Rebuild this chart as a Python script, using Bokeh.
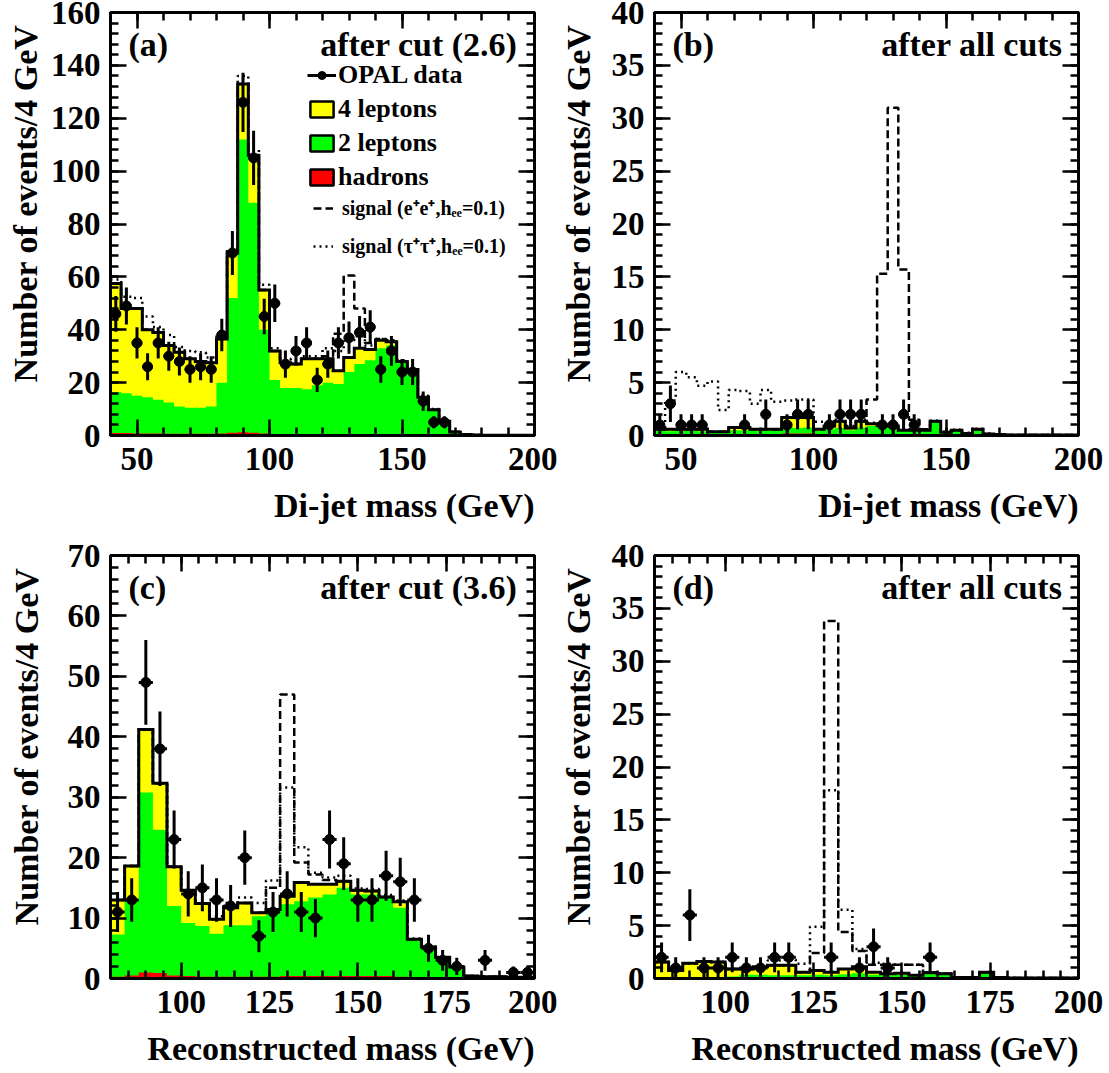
import numpy as np
from bokeh.plotting import figure
from bokeh.layouts import gridplot
from bokeh.models import (Range1d, LinearAxis, Label, Legend, LegendItem, Title,
                          FixedTicker, CustomJSTickFormatter)
from bokeh.embed import file_html
from bokeh.resources import INLINE

# ---------------- data: 4 GeV bins ----------------
dijet_edges = np.arange(40, 201, 4)     # panels (a), (b)
reco_edges = np.arange(80, 201, 4)      # panels (c), (d)

# (a) di-jet mass after cut (2.6)
a_total = [57.5, 48, 48, 40, 39, 34, 31.5, 29, 28, 27.5,
           36.5, 69, 133, 106, 55, 32, 27.5, 27, 29, 29,
           29, 24.5, 29.5, 33, 32.5, 36, 35.5, 28, 25, 14.5,
           9.7, 5.4, 1.3, 0.4, 0.2, 0.1, 0.1, 0.05, 0.05, 0.05]
a_2lep = [16.5, 16, 15, 14.5, 13.5, 12.5, 11, 10.5, 10.5, 11,
          20, 52, 112, 88, 40, 21, 18, 18, 17.5, 19,
          20, 19.5, 24, 27, 28.5, 33, 34, 27.5, 24.5, 14.5,
          9.7, 5.4, 1.3, 0.4, 0.2, 0.1, 0.1, 0.05, 0.05, 0.05]
a_had = [0.9, 0.9, 0.8, 0.8, 0.8, 0.7, 0.7, 0.7, 0.7, 0.7,
         0.8, 1.0, 1.2, 1.0, 0.8, 0.6, 0.5, 0.5, 0.5, 0.5,
         0.5, 0.5, 0.5, 0.5, 0.5, 0.5, 0.5, 0.4, 0.4, 0.3,
         0.2, 0.1, 0.05, 0.02, 0.01, 0, 0, 0, 0, 0]
a_sig_ee = [57.5, 48, 48, 40, 39, 34, 31.5, 29, 28, 27.5,
            36.5, 69, 133, 106, 55, 32, 27.5, 27, 29, 29,
            30, 38.5, 60.5, 48, 35, 36.5, 35.5, 28, 25, 14.5,
            9.7, 5.4, 1.3, 0.4, 0.2, 0.1, 0.1, 0.05, 0.05, 0.05]
a_sig_tau = [59, 52.5, 52, 45, 41, 38, 33.5, 32, 31.5, 29.5,
             38, 70.5, 136, 108, 57, 33, 29, 28.5, 30, 30,
             33, 32, 36, 37.5, 34, 36.5, 36, 28.5, 25.5, 15,
             10, 5.5, 1.4, 0.4, 0.2, 0.1, 0.1, 0.05, 0.05, 0.05]
a_data = [46, 49, 35, 26, 35, 30, 28, 25, 26, 25,
          38, 69, 126, 105, 45, 50, 27, 32, 35, 21,
          27, 35, 37, 39, 41, 25, 32, 24, 24, 13,
          5, 5, 0, 0, 0, 0, 0, 0, 0, 0]

# (b) di-jet mass after all cuts
b_total = [0.6, 0.6, 0.6, 0.6, 0.6, 0.35, 0.35, 0.75, 0.75, 0.6,
           0.6, 0.6, 1.7, 1.7, 1.7, 0.6, 0.9, 1.35, 0.7, 1.35,
           1.1, 0.95, 0.9, 0.5, 0.5, 0.5, 1.35, 0.3, 0.5, 0.2,
           0.6, 0.15, 0.1, 0.05, 0.05, 0.05, 0.05, 0.05, 0.05, 0.05]
b_2lep = [0.5, 0.4, 0.45, 0.45, 0.4, 0.25, 0.25, 0.5, 0.5, 0.45,
          0.45, 0.5, 0.8, 0.7, 0.75, 0.45, 0.6, 0.7, 0.5, 0.75,
          0.9, 0.8, 0.75, 0.4, 0.45, 0.45, 1.3, 0.3, 0.5, 0.2,
          0.6, 0.15, 0.1, 0.05, 0.05, 0.05, 0.05, 0.05, 0.05, 0.05]
b_had = [0.15, 0.15, 0.15, 0.15, 0.15, 0.1, 0.1, 0.15, 0.15, 0.15,
         0.15, 0.15, 0.2, 0.2, 0.2, 0.15, 0.15, 0.15, 0.15, 0.15,
         0.15, 0.15, 0.15, 0.1, 0.1, 0.1, 0.1, 0.05, 0.05, 0.05,
         0.05, 0.02, 0.02, 0, 0, 0, 0, 0, 0, 0]
b_sig_ee = [0.6, 0.6, 0.6, 0.6, 0.6, 0.35, 0.35, 0.75, 0.75, 0.6,
            0.6, 0.6, 1.7, 1.7, 1.7, 0.6, 0.9, 1.35, 0.7, 1.35,
            3.4, 15.3, 31, 15.7, 1.5, 0.6, 1.35, 0.3, 0.5, 0.2,
            0.6, 0.15, 0.1, 0.05, 0.05, 0.05, 0.05, 0.05, 0.05, 0.05]
b_sig_tau = [0.7, 3.3, 6.0, 5.5, 4.7, 5.1, 2.4, 4.3, 4.2, 3.0,
             4.3, 3.2, 3.3, 3.4, 3.4, 1.3, 1.2, 1.5, 0.9, 1.5,
             1.2, 1.1, 1.0, 0.6, 0.6, 0.6, 1.4, 0.35, 0.55, 0.25,
             0.65, 0.2, 0.1, 0.05, 0.05, 0.05, 0.05, 0.05, 0.05, 0.05]
b_data = [1, 3, 1, 1, 1, 0, 0, 0, 1, 0,
          2, 0, 1, 2, 2, 0, 1, 2, 2, 2,
          0, 1, 1, 2, 1, 0, 0, 0, 0, 0,
          0, 0, 0, 0, 0, 0, 0, 0, 0, 0]

# (c) reconstructed mass after cut (3.6)
c_total = [13, 18.6, 41.2, 32.3, 18.5, 14.6, 12.4, 9.8, 11.7, 12.5,
           10.9, 11.4, 13.6, 15.9, 15.6, 15.6, 16.1, 14.6, 14.5, 13.5,
           12.7, 6.5, 5.2, 3.5, 1.9, 0.4, 0.3, 0.3, 0.2, 0.2]
c_2lep = [7.3, 13, 30.8, 24.6, 12, 9.2, 8.7, 7.4, 8.8, 8.8,
          10.3, 11.2, 12.3, 12.8, 13.4, 13.9, 15, 13.9, 13.9, 13.4,
          11.7, 6.5, 5.2, 3.5, 1.9, 0.4, 0.3, 0.3, 0.2, 0.2]
c_had = [0.3, 0.5, 1.0, 0.9, 0.5, 0.4, 0.3, 0.3, 0.3, 0.3,
         0.3, 0.3, 0.4, 0.4, 0.4, 0.4, 0.4, 0.4, 0.4, 0.4,
         0.3, 0.2, 0.2, 0.1, 0.1, 0.05, 0.05, 0, 0, 0]
c_sig_ee = [13, 18.6, 41.2, 32.3, 18.5, 14.6, 12.4, 9.8, 11.7, 12.5,
            10.9, 15, 47, 19.2, 17.2, 16.3, 16.1, 14.6, 14.5, 13.5,
            12.7, 6.5, 5.2, 3.5, 1.9, 0.4, 0.3, 0.3, 0.2, 0.2]
c_sig_tau = [13, 18.6, 41.2, 32.3, 18.5, 14.6, 12.4, 10.3, 12.5, 13.4,
             12.5, 16.2, 31.6, 21.7, 17.5, 16.7, 17, 14.9, 14.8, 13.8,
             12.9, 6.6, 5.3, 3.5, 1.9, 0.4, 0.3, 0.3, 0.2, 0.2]
c_data = [11, 13, 49, 38, 23, 14, 15, 13, 12, 20,
          7, 11, 14, 11, 10, 23, 19, 13, 13, 17,
          16, 13, 5, 3, 2, 0, 3, 0, 1, 1]

# (d) reconstructed mass after all cuts
d_total = [1.55, 0.75, 1.45, 1.6, 1.55, 0.9, 0.9, 1.1, 1.25, 1.25,
           0.6, 0.75, 0.6, 0.9, 1.1, 0.6, 0.45, 0.5, 0.3, 0.55,
           0.45, 0.1, 0.1, 0.6, 0.1, 0.05, 0.05, 0.05, 0.05, 0.05]
d_2lep = [0.15, 0.1, 0.15, 0.15, 0.15, 0.2, 0.35, 0.35, 0.3, 0.3,
          0.3, 0.35, 0.3, 0.4, 0.5, 0.35, 0.3, 0.35, 0.25, 0.4,
          0.4, 0.1, 0.1, 0.55, 0.05, 0.05, 0.05, 0.05, 0.05, 0.05]
d_had = [0.05, 0.1, 0.15, 0.15, 0.1, 0.05, 0.05, 0.05, 0.05, 0.05,
         0.05, 0.05, 0.05, 0.05, 0.1, 0.15, 0.1, 0.05, 0.05, 0.05,
         0.05, 0.02, 0.02, 0.02, 0, 0, 0, 0, 0, 0]
d_sig_ee = [1.55, 0.75, 1.45, 1.6, 1.55, 0.9, 0.9, 1.1, 1.25, 1.25,
            0.6, 2.4, 33.8, 4.4, 2.6, 1.3, 1.3, 1.3, 1.3, 0.6,
            0.45, 0.1, 0.1, 0.6, 0.1, 0.05, 0.05, 0.05, 0.05, 0.05]
d_sig_tau = [1.55, 0.75, 1.45, 1.6, 1.55, 0.9, 0.9, 1.1, 1.7, 1.8,
             1.4, 4.9, 17.8, 6.5, 2.8, 1.5, 1.4, 1.3, 1.3, 0.6,
             0.5, 0.1, 0.1, 0.6, 0.1, 0.05, 0.05, 0.05, 0.05, 0.05]
d_data = [2, 1, 6, 1, 1, 2, 1, 1, 2, 2,
          0, 0, 2, 0, 1, 3, 1, 0, 0, 2,
          0, 0, 0, 0, 0, 0, 0, 0, 0, 0]

# axis ticks
dijet_xticks = [50, 100, 150, 200]
reco_xticks = [100, 125, 150, 175, 200]
a_yticks = list(range(0, 161, 20))
c_yticks = list(range(0, 71, 10))
cuts_yticks = list(range(0, 41, 5))

# text
y_title = "Number of events/4 GeV"
legend_main = ["OPAL data", "4 leptons", "2 leptons", "hadrons"]
legend_sig = ["signal (e\u207ae\u207a,h\u2091\u2091=0.1)",
              "signal (\u03c4\u207a\u03c4\u207a,h\u2091\u2091=0.1)"]

FONT = "Liberation Serif"
YELLOW, GREEN, RED = "#ffff00", "#00ff00", "#ff0000"
BLANK = CustomJSTickFormatter(code="return ''")


def outline_xy(edges, vals):
    xs, ys = [edges[0]], [0.0]
    for i, v in enumerate(vals):
        xs += [edges[i], edges[i + 1]]
        ys += [v, v]
    xs.append(edges[-1])
    ys.append(0.0)
    return xs, ys


def style_axis(ax):
    ax.major_tick_in = 16
    ax.major_tick_out = 0
    ax.minor_tick_in = 8
    ax.minor_tick_out = 0
    ax.major_tick_line_width = 2.5
    ax.minor_tick_line_width = 2.5
    ax.major_tick_line_color = "black"
    ax.minor_tick_line_color = "black"
    ax.axis_line_width = 3
    ax.axis_line_color = "black"
    ax.major_label_text_font = FONT
    ax.major_label_text_font_style = "bold"
    ax.major_label_text_font_size = "33px"
    ax.major_label_text_color = "black"


def gap_axis(size, at):
    # unlabelled axis with an invisible outward tick: only reserves room
    # between the tick labels and the axis title
    return LinearAxis(ticker=FixedTicker(ticks=[at], minor_ticks=[]), formatter=BLANK,
                      major_tick_out=size, major_tick_in=0,
                      minor_tick_out=0, minor_tick_in=0,
                      axis_line_color=None, major_tick_line_color=None,
                      minor_tick_line_color=None,
                      major_label_text_font_size="0px", major_label_standoff=0)


def make_panel(edges, total, two_lep, had, sig_ee, sig_tau, data,
               xticks, xminor, yticks, yminor, ymax,
               tag, note, xtitle, ygap, left, right, bottom, width, height):
    p = figure(width=width, height=height,
               x_range=Range1d(edges[0], edges[-1]), y_range=Range1d(0, ymax),
               output_backend="svg", toolbar_location=None,
               min_border_left=left, min_border_right=right,
               min_border_top=12, min_border_bottom=bottom)
    p.xgrid.visible = False
    p.ygrid.visible = False
    p.outline_line_color = "black"
    p.outline_line_width = 3
    p.background_fill_color = "white"
    p.border_fill_color = "white"

    xt = FixedTicker(ticks=xticks, minor_ticks=xminor)
    yt = FixedTicker(ticks=yticks, minor_ticks=yminor)
    p.xaxis.ticker = xt
    p.yaxis.ticker = yt
    style_axis(p.xaxis[0])
    style_axis(p.yaxis[0])
    p.xaxis.major_label_standoff = 12
    p.yaxis.major_label_standoff = 10
    for tk, side in ((xt, "above"), (yt, "right")):
        ax = LinearAxis(ticker=tk, formatter=BLANK)
        style_axis(ax)
        ax.major_label_text_font_size = "0px"
        ax.major_label_standoff = 0
        p.add_layout(ax, side)

    # axis titles, right-aligned to the frame (ROOT style)
    title_kw = dict(align="right", standoff=0, text_font=FONT, text_font_style="bold",
                    text_font_size="34px", text_color="black")
    p.add_layout(gap_axis(12, xticks[1]), "below")
    p.add_layout(Title(text=xtitle, **title_kw), "below")
    p.add_layout(gap_axis(ygap, yticks[1]), "left")
    p.add_layout(Title(text=y_title, offset=12, **title_kw), "left")

    e = np.asarray(edges, dtype=float)
    zeros = np.zeros(len(e))
    # stacked background: total (4 leptons on top), 2 leptons, hadrons
    for vals, col in ((total, YELLOW), (two_lep, GREEN), (had, RED)):
        v = list(vals) + [vals[-1]]
        p.varea_step(x=e, y1=zeros, y2=v, step_mode="after", fill_color=col)

    xs, ys = outline_xy(e, total)
    p.line(xs, ys, line_color="black", line_width=3, line_join="miter")
    xs, ys = outline_xy(e, sig_tau)
    tau_r = p.line(xs, ys, line_color="black", line_width=2.5, line_dash="2 4")
    xs, ys = outline_xy(e, sig_ee)
    ee_r = p.line(xs, ys, line_color="black", line_width=2.5, line_dash="8 4")

    centers = 0.5 * (e[:-1] + e[1:])
    half = 0.5 * (e[1] - e[0])
    n = np.asarray(data, dtype=float)
    sel = n > 0
    x, n = centers[sel], n[sel]
    err = np.sqrt(n)
    p.segment(x0=x, y0=n - err, x1=x, y1=n + err, line_color="black", line_width=3)
    hbar_r = p.segment(x0=x - half, y0=n, x1=x + half, y1=n,
                       line_color="black", line_width=3)
    dot_r = p.scatter(x, n, size=10, marker="circle",
                      fill_color="black", line_color="black")

    # hidden outlined copies of the stack, used as legend swatches
    boxes = [p.quad(left=e[:-1], right=e[1:], bottom=0, top=vals,
                    fill_color=col, line_color="black", line_width=2.5, visible=False)
             for vals, col in ((total, YELLOW), (two_lep, GREEN), (had, RED))]

    fw = width - left - right
    fh = height - 12 - bottom
    text_kw = dict(x_units="screen", y_units="screen", text_font=FONT,
                   text_font_style="bold", text_color="black",
                   text_font_size="34px", text_baseline="alphabetic")
    p.add_layout(Label(x=18, y=fh - 32, text=tag, text_align="left", **text_kw))
    p.add_layout(Label(x=fw - 17, y=fh - 32, text=note, text_align="right", **text_kw))
    return p, (hbar_r, dot_r, ee_r, tau_r, boxes), fh


dijet_minor = list(range(40, 201, 10))
reco_minor = list(range(80, 201, 5))

# left column 557 px wide (room for the last x tick label), right column 552 px
pa, rend, fh_a = make_panel(dijet_edges, a_total, a_2lep, a_had, a_sig_ee, a_sig_tau, a_data,
                            dijet_xticks, dijet_minor, a_yticks, list(range(0, 161, 4)), 160,
                            "(a)", "after cut (2.6)", "Di-jet mass (GeV)", 4,
                            110, 23, 108, 557, 543)
pb, _, _ = make_panel(dijet_edges, b_total, b_2lep, b_had, b_sig_ee, b_sig_tau, b_data,
                      dijet_xticks, dijet_minor, cuts_yticks, list(range(0, 41)), 40,
                      "(b)", "after all cuts", "Di-jet mass (GeV)", 12,
                      96, 31, 108, 552, 543)
pc, _, _ = make_panel(reco_edges, c_total, c_2lep, c_had, c_sig_ee, c_sig_tau, c_data,
                      reco_xticks, reco_minor, c_yticks, list(range(0, 71, 2)), 70,
                      "(c)", "after cut (3.6)", "Reconstructed mass (GeV)", 20,
                      110, 23, 95, 557, 530)
pd, _, _ = make_panel(reco_edges, d_total, d_2lep, d_had, d_sig_ee, d_sig_tau, d_data,
                      reco_xticks, reco_minor, cuts_yticks, list(range(0, 41)), 40,
                      "(d)", "after all cuts", "Reconstructed mass (GeV)", 12,
                      96, 31, 95, 552, 530)

# legend of panel (a)
hbar_r, dot_r, ee_r, tau_r, (y_box, g_box, r_box) = rend

leg_main = Legend(items=[LegendItem(label=legend_main[0], renderers=[hbar_r, dot_r]),
                         LegendItem(label=legend_main[1], renderers=[y_box]),
                         LegendItem(label=legend_main[2], renderers=[g_box]),
                         LegendItem(label=legend_main[3], renderers=[r_box])],
                  location=(197, fh_a - 179.5))
leg_main.glyph_width = 29
leg_main.glyph_height = 20
leg_main.label_height = 29
leg_main.spacing = 4
leg_main.label_standoff = 2
leg_main.label_text_font_size = "26px"

leg_sig = Legend(items=[LegendItem(label=legend_sig[0], renderers=[ee_r]),
                        LegendItem(label=legend_sig[1], renderers=[tau_r])],
                 location=(203, fh_a - 247))
leg_sig.glyph_width = 20
leg_sig.glyph_height = 20
leg_sig.label_height = 22
leg_sig.spacing = 11
leg_sig.label_standoff = 9
leg_sig.label_text_font_size = "20px"

for leg in (leg_main, leg_sig):
    leg.padding = 0
    leg.margin = 0
    leg.border_line_color = None
    leg.background_fill_alpha = 0
    leg.label_text_font = FONT
    leg.label_text_font_style = "bold"
    leg.label_text_color = "black"
    pa.add_layout(leg)

grid = gridplot([[pa, pb], [pc, pd]], toolbar_location=None)

open("out.html", "w").write(file_html(grid, INLINE))
